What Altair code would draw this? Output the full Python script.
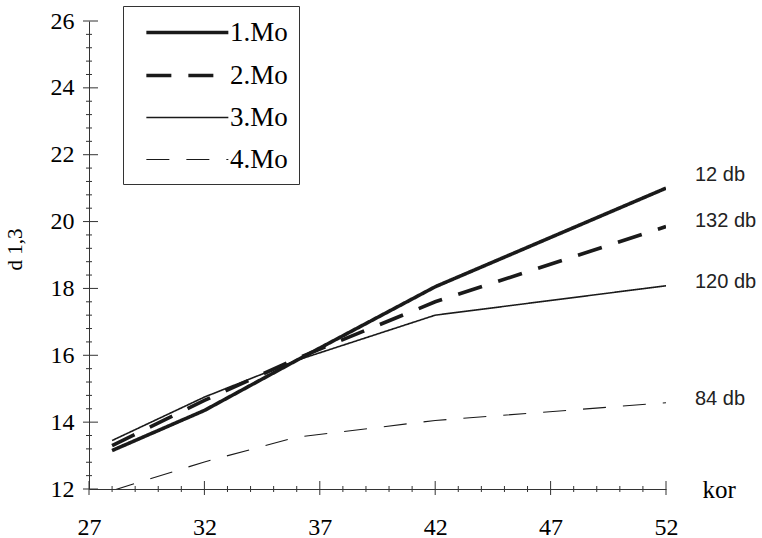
import altair as alt
import pandas as pd

# ---- data ----
ages = [28, 32, 36, 42, 52]
mo1 = [13.15, 14.35, 15.85, 18.05, 21.0]
mo2 = [13.3, 14.65, 15.9, 17.6, 19.85]
mo3 = [13.45, 14.75, 15.85, 17.2, 18.08]
mo4 = [11.95, 12.81, 13.55, 14.05, 14.58]
series = ["1.Mo", "2.Mo", "3.Mo", "4.Mo"]
end_labels = ["12 db", "132 db", "120 db", "84 db"]
label_dy = [-13, -6, -4, -4]

x_major = [27, 32, 37, 42, 47, 52]
x_minor = [v for v in range(27, 53) if v not in x_major]
y_major = [12, 14, 16, 18, 20, 22, 24, 26]
y_minor = [round(12 + 0.4 * i, 1) for i in range(36) if i % 5]

values = {"1.Mo": mo1, "2.Mo": mo2, "3.Mo": mo3, "4.Mo": mo4}
rows = []
for s in series:
    for a, v in zip(ages, values[s]):
        rows.append({"age": a, "d": v, "series": s})
df = pd.DataFrame(rows)

W, H = 577, 468
INK = "#1a1a1a"
SERIF = "Liberation Serif, Times New Roman, serif"

xs = alt.Scale(domain=[27, 52], nice=False, zero=False)
ys = alt.Scale(domain=[12, 26], nice=False, zero=False)

xaxis = alt.Axis(values=x_major, ticks=False, grid=False, domainColor="#333",
                 labelFont=SERIF, labelFontSize=24, labelColor="black",
                 labelPadding=26, labelFlush=False,
                 title="kor", titleFont=SERIF, titleFontSize=25, titleFontWeight="normal",
                 titleColor="black", titleX=W + 36, titleY=8, titleAlign="left",
                 titleBaseline="alphabetic")
yaxis = alt.Axis(values=y_major, ticks=False, grid=False, domainColor="#333",
                 labelFont=SERIF, labelFontSize=24, labelColor="black",
                 labelPadding=15, labelFlush=False,
                 title="d 1,3", titleFont=SERIF, titleFontSize=21, titleFontWeight="normal",
                 titleColor="black", titleX=-68, titleY=228, titleAlign="center",
                 titleBaseline="alphabetic")

X = lambda: alt.X("age:Q", scale=xs, axis=xaxis)
Y = lambda: alt.Y("d:Q", scale=ys, axis=yaxis)

leg = alt.Legend(title=None, orient="none", legendX=34, legendY=-15,
                 symbolType="M-0.23,0H5.77", symbolSize=747, symbolStrokeColor=INK,
                 labelFont=SERIF, labelFontSize=27, labelColor="black", labelOffset=65,
                 rowPadding=14, strokeColor="#333", fillColor="white", padding=11)

lines = alt.Chart(df).mark_line(clip=True, strokeCap="butt", color=INK).encode(
    x=X(), y=Y(),
    strokeDash=alt.StrokeDash("series:O", scale=alt.Scale(
        type="ordinal", domain=series, range=[[1, 0], [25, 17], [1, 0], [23, 17]]), legend=leg),
    strokeWidth=alt.StrokeWidth("series:O", scale=alt.Scale(
        type="ordinal", domain=series, range=[3.6, 3.6, 1.6, 1.1]), legend=leg),
    detail="series:N",
)

def yticks(vals, a, b):
    return alt.Chart(pd.DataFrame({"d": vals})).mark_rule(color="#333", strokeWidth=1).encode(
        y=Y(), x=alt.value(a), x2=alt.value(b))

def xticks(vals, a, b):
    return alt.Chart(pd.DataFrame({"age": vals})).mark_rule(color="#333", strokeWidth=1).encode(
        x=X(), y=alt.value(H + a), y2=alt.value(H + b))

layers = [lines, yticks(y_major, -6, 9), yticks(y_minor, -3, 3),
          xticks(x_major, -8, 6), xticks(x_minor, -3, 3)]

for s, lab, dy in zip(series, end_labels, label_dy):
    ldf = pd.DataFrame({"age": [ages[-1]], "d": [values[s][-1]], "lab": [lab]})
    layers.append(alt.Chart(ldf).mark_text(align="left", baseline="middle", dx=29, dy=dy,
                                           font="Liberation Sans", fontSize=20, color="#222").encode(
        x=X(), y=Y(), text="lab:N"))

chart = alt.layer(*layers).properties(
    width=W, height=H,
    autosize=alt.AutoSizeParams(type="none"),
    padding={"left": 89, "top": 21, "right": 96, "bottom": 49},
    background="white",
).configure_view(stroke=None).configure_axis(
    labelFont=SERIF, titleFont=SERIF, labelColor="black", titleColor="black"
)

chart.save("out.html", embed_options={"renderer": "svg", "actions": False})
